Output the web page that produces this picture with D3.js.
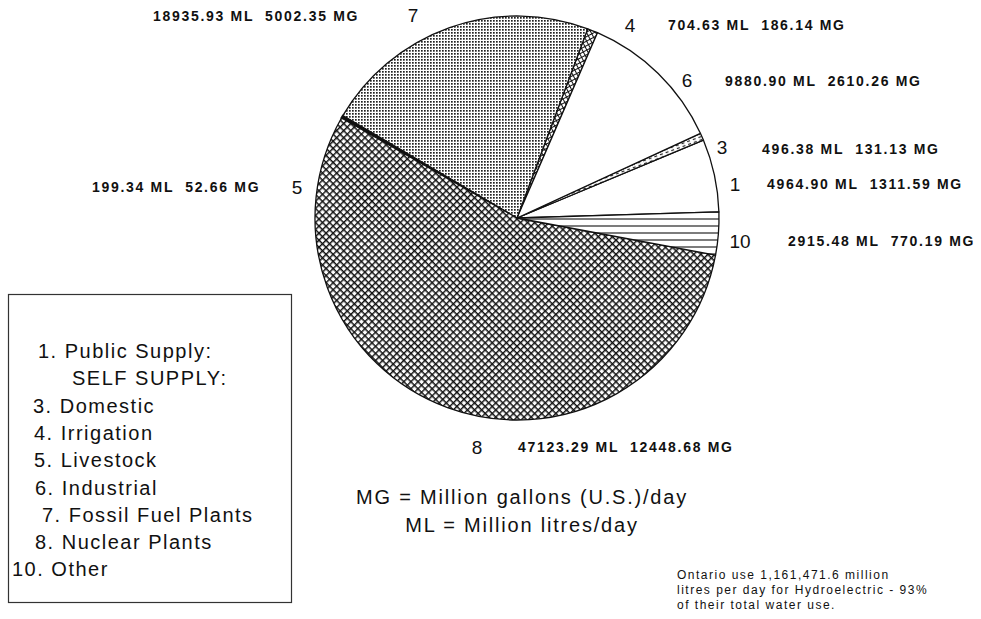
<!DOCTYPE html>
<html>
<head>
<meta charset="utf-8">
<script src="https://cdn.jsdelivr.net/npm/d3@7"></script>
<style>
  body { margin: 0; background: #fff; }
  text { font-family: "Liberation Sans", Arial, Helvetica, sans-serif; fill: #111; }
</style>
</head>
<body>
<div id="chart"></div>
<script>
//DATA
const categories = ["1", "3", "4", "5", "6", "7", "8", "10"];
const valuesML = [4964.90, 496.38, 704.63, 199.34, 9880.90, 18935.93, 47123.29, 2915.48];
const valuesMG = [1311.59, 131.13, 186.14, 52.66, 2610.26, 5002.35, 12448.68, 770.19];
const legendLines = ["1. Public Supply:", "SELF SUPPLY:", "3. Domestic", "4. Irrigation", "5. Livestock",
                     "6. Industrial", "7. Fossil Fuel Plants", "8. Nuclear Plants", "10. Other"];
const unitLines = ["MG = Million gallons (U.S.)/day", "ML = Million litres/day"];
const noteLines = ["Ontario use 1,161,471.6 million", "litres per day for Hydroelectric - 93%", "of their total water use."];

// slices go round clockwise from the top in this order
const drawOrder = ["4", "6", "3", "1", "10", "8", "5", "7"];

//LAYOUT
const width = 981, height = 619;
const cx = 517, cy = 218, radius = 202;
const startDeg = 20.5; // where slice 4 starts, degrees clockwise from 12 o'clock

// where the slice numbers and ML/MG labels sit around the pie
// num = centre of the slice number, txt = left edge of the value text
const labelLayout = {
  "7":  {num: [413, 15],  txt: [153, 16]},
  "4":  {num: [630, 25],  txt: [668, 25]},
  "6":  {num: [687, 80],  txt: [725, 81]},
  "3":  {num: [722, 147], txt: [762, 149]},
  "1":  {num: [735, 184], txt: [767, 184]},
  "10": {num: [740, 241], txt: [788, 241]},
  "5":  {num: [297, 187], txt: [92, 187]},
  "8":  {num: [477, 447], txt: [518, 447]}
};
const legendIndent = [38, 72, 33, 34, 34, 35, 42, 35, 12];

const svg = d3.select("#chart")
  .append("svg")
  .attr("width", width)
  .attr("height", height);

svg.append("rect").attr("width", width).attr("height", height).attr("fill", "#fff");

// Fill patterns, one per slice style
const defs = svg.append("defs");

// 7: fine stipple
const stip = defs.append("pattern").attr("id", "stipple")
  .attr("patternUnits", "userSpaceOnUse").attr("width", 3).attr("height", 3);
stip.append("rect").attr("width", 3).attr("height", 3).attr("fill", "#fff");
stip.append("rect").attr("x", 0).attr("y", 0).attr("width", 1.7).attr("height", 1.7).attr("fill", "#222");

// 8: crosshatch diamonds
const hatch = defs.append("pattern").attr("id", "cross")
  .attr("patternUnits", "userSpaceOnUse").attr("width", 5).attr("height", 5)
  .attr("patternTransform", "rotate(45)");
hatch.append("rect").attr("width", 5).attr("height", 5).attr("fill", "#fff");
hatch.append("path").attr("d", "M0,0.7H5M0.7,0V5").attr("stroke", "#111").attr("stroke-width", 1.5);

// 10: horizontal rules
const rules = defs.append("pattern").attr("id", "rules")
  .attr("patternUnits", "userSpaceOnUse").attr("width", 8).attr("height", 7);
rules.append("rect").attr("width", 8).attr("height", 7).attr("fill", "#fff");
rules.append("path").attr("d", "M0,1H8").attr("stroke", "#111").attr("stroke-width", 1.1);

// 4: little squares (ladder)
const checks = defs.append("pattern").attr("id", "checks")
  .attr("patternUnits", "userSpaceOnUse").attr("width", 4).attr("height", 4)
  .attr("patternTransform", "rotate(-28)");
checks.append("rect").attr("width", 4).attr("height", 4).attr("fill", "#fff");
checks.append("path").attr("d", "M0,0.5H4M0.5,0V4").attr("stroke", "#111").attr("stroke-width", 1);

// 3: dashes
const dashes = defs.append("pattern").attr("id", "dashes")
  .attr("patternUnits", "userSpaceOnUse").attr("width", 6).attr("height", 3)
  .attr("patternTransform", "rotate(-20)");
dashes.append("rect").attr("width", 6).attr("height", 3).attr("fill", "#fff");
dashes.append("path").attr("d", "M0,1.5H3").attr("stroke", "#222").attr("stroke-width", 1.2);

const sliceFill = {
  "1": "#fff", "3": "url(#dashes)", "4": "url(#checks)", "5": "#111",
  "6": "#fff", "7": "url(#stipple)", "8": "url(#cross)", "10": "url(#rules)"
};

// Build slice records from the arrays
const slices = categories.map((c, i) => ({id: c, ml: valuesML[i], mg: valuesMG[i]}));

const a0 = startDeg * Math.PI / 180;
const pie = d3.pie()
  .value(d => d.ml)
  .sort((a, b) => drawOrder.indexOf(a.id) - drawOrder.indexOf(b.id))
  .startAngle(a0)
  .endAngle(a0 + 2 * Math.PI);

const arc = d3.arc().innerRadius(0).outerRadius(radius);

const g = svg.append("g").attr("transform", "translate(" + cx + "," + cy + ")");

g.selectAll("path.slice")
  .data(pie(slices))
  .enter()
  .append("path")
  .attr("class", "slice")
  .attr("d", arc)
  .attr("fill", d => sliceFill[d.data.id])
  .attr("stroke", "#111")
  .attr("stroke-width", d => d.data.id === "5" ? 2 : 1.3)
  .attr("stroke-linejoin", "round");

// Slice numbers
svg.selectAll("text.num")
  .data(slices)
  .enter()
  .append("text")
  .attr("class", "num")
  .attr("x", d => labelLayout[d.id].num[0])
  .attr("y", d => labelLayout[d.id].num[1] + 7)
  .attr("text-anchor", "middle")
  .attr("font-size", 19)
  .text(d => d.id);

// ML / MG value labels
svg.selectAll("text.val")
  .data(slices)
  .enter()
  .append("text")
  .attr("class", "val")
  .attr("x", d => labelLayout[d.id].txt[0])
  .attr("y", d => labelLayout[d.id].txt[1] + 5)
  .attr("font-size", 14)
  .attr("font-weight", "bold")
  .attr("letter-spacing", 1.7)
  .style("white-space", "pre")
  .text(d => d.ml.toFixed(2) + " ML  " + d.mg.toFixed(2) + " MG");

// Legend box
svg.append("rect")
  .attr("x", 8.5).attr("y", 294.5)
  .attr("width", 283).attr("height", 308)
  .attr("fill", "none")
  .attr("stroke", "#333")
  .attr("stroke-width", 1.2);

svg.selectAll("text.leg")
  .data(legendLines)
  .enter()
  .append("text")
  .attr("class", "leg")
  .attr("x", (d, i) => legendIndent[i])
  .attr("y", (d, i) => 358 + i * 27.3)
  .attr("font-size", 20)
  .attr("letter-spacing", 1.5)
  .text(d => d);

// Units key under the pie
svg.selectAll("text.unit")
  .data(unitLines)
  .enter()
  .append("text")
  .attr("class", "unit")
  .attr("x", 522)
  .attr("y", (d, i) => 504 + i * 28)
  .attr("text-anchor", "middle")
  .attr("font-size", 20)
  .attr("letter-spacing", 1.8)
  .attr("fill", "#222")
  .text(d => d);

// Hydro footnote
svg.selectAll("text.note")
  .data(noteLines)
  .enter()
  .append("text")
  .attr("class", "note")
  .attr("x", 677)
  .attr("y", (d, i) => 579 + i * 15)
  .attr("font-size", 12)
  .attr("letter-spacing", 1.5)
  .text(d => d);
</script>
</body>
</html>
